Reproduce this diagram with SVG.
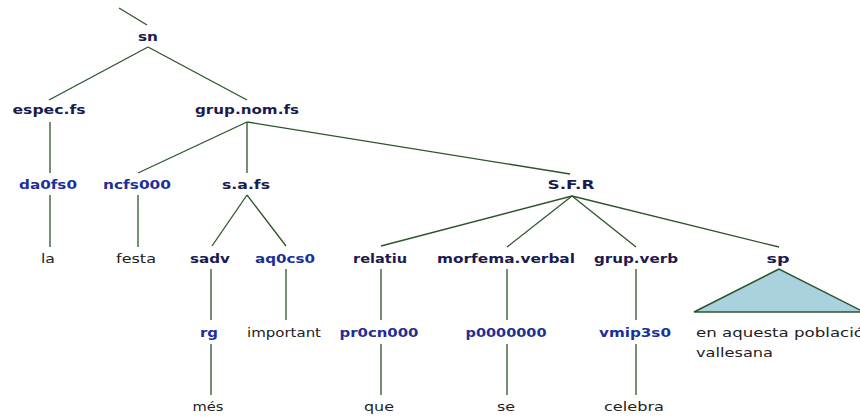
<svg xmlns="http://www.w3.org/2000/svg" width="860" height="418" viewBox="0 0 860 418">
<style>
text{font-family:"DejaVu Sans","Liberation Sans",Arial,sans-serif;font-size:13px;text-anchor:middle}
.nt{font-weight:bold;fill:#1b1b4f}
.pos{font-weight:bold;fill:#1d2f9c}
.w{fill:#222222}
.e{stroke:#2b552b;stroke-width:1.3;fill:none}
.tri{fill:#a9d1de;stroke:#2b552b;stroke-width:1.5}
</style>
<rect width="860" height="418" fill="#ffffff"/>
<g id="connectors" class="e">
<line x1="119" y1="8" x2="147" y2="25"/>
<line x1="148" y1="47" x2="49" y2="100"/>
<line x1="148" y1="47" x2="247" y2="100"/>
<line x1="50" y1="122" x2="50" y2="173"/>
<line x1="50" y1="195" x2="50" y2="247"/>
<line x1="247" y1="122" x2="138" y2="173"/>
<line x1="247" y1="122" x2="247" y2="173"/>
<line x1="247" y1="122" x2="570" y2="174"/>
<line x1="138" y1="195" x2="138" y2="247"/>
<line x1="247" y1="195" x2="212" y2="246"/>
<line x1="247" y1="195" x2="286" y2="246"/>
<line x1="211" y1="269" x2="211" y2="320"/>
<line x1="211" y1="344" x2="211" y2="395"/>
<line x1="286" y1="269" x2="286" y2="320"/>
<line x1="572" y1="196" x2="381" y2="246"/>
<line x1="572" y1="196" x2="507" y2="247"/>
<line x1="572" y1="196" x2="636" y2="247"/>
<line x1="572" y1="196" x2="779" y2="247"/>
<line x1="381" y1="269" x2="381" y2="320"/>
<line x1="381" y1="344" x2="381" y2="395"/>
<line x1="507" y1="269" x2="507" y2="320"/>
<line x1="507" y1="344" x2="507" y2="395"/>
<line x1="636" y1="269" x2="636" y2="320"/>
<line x1="636" y1="344" x2="636" y2="395"/>
</g>
<g id="n-sn"><text class="nt" x="148" y="41" textLength="20" lengthAdjust="spacingAndGlyphs">sn</text></g>
<g id="n-espec"><text class="nt" x="49" y="114" textLength="73" lengthAdjust="spacingAndGlyphs">espec.fs</text></g>
<g id="n-grupnom"><text class="nt" x="247" y="114" textLength="104" lengthAdjust="spacingAndGlyphs">grup.nom.fs</text></g>
<g id="n-da0fs0"><text class="pos" x="48" y="189" textLength="58" lengthAdjust="spacingAndGlyphs">da0fs0</text></g>
<g id="n-ncfs000"><text class="pos" x="137" y="189" textLength="68" lengthAdjust="spacingAndGlyphs">ncfs000</text></g>
<g id="n-safs"><text class="nt" x="246" y="189" textLength="48" lengthAdjust="spacingAndGlyphs">s.a.fs</text></g>
<g id="n-sfr"><text class="nt" x="571" y="189" textLength="47" lengthAdjust="spacingAndGlyphs">S.F.R</text></g>
<g id="n-la"><text class="w" x="48" y="263" textLength="14" lengthAdjust="spacingAndGlyphs">la</text></g>
<g id="n-festa"><text class="w" x="136" y="263" textLength="40" lengthAdjust="spacingAndGlyphs">festa</text></g>
<g id="n-sadv"><text class="nt" x="210" y="263" textLength="40" lengthAdjust="spacingAndGlyphs">sadv</text></g>
<g id="n-aq0cs0"><text class="pos" x="285" y="263" textLength="60" lengthAdjust="spacingAndGlyphs">aq0cs0</text></g>
<g id="n-relatiu"><text class="nt" x="380" y="263" textLength="54" lengthAdjust="spacingAndGlyphs">relatiu</text></g>
<g id="n-morfema"><text class="nt" x="506" y="263" textLength="138" lengthAdjust="spacingAndGlyphs">morfema.verbal</text></g>
<g id="n-grupverb"><text class="nt" x="636" y="263" textLength="84" lengthAdjust="spacingAndGlyphs">grup.verb</text></g>
<g id="n-sp"><text class="nt" x="778" y="263" textLength="23" lengthAdjust="spacingAndGlyphs">sp</text>
<polygon class="tri" points="779,269 694,312 864,312"/></g>
<g id="n-rg"><text class="pos" x="209" y="337" textLength="18" lengthAdjust="spacingAndGlyphs">rg</text></g>
<g id="n-important"><text class="w" x="284" y="337" textLength="74" lengthAdjust="spacingAndGlyphs">important</text></g>
<g id="n-pr0cn000"><text class="pos" x="379" y="337" textLength="79" lengthAdjust="spacingAndGlyphs">pr0cn000</text></g>
<g id="n-p0000000"><text class="pos" x="506" y="337" textLength="81" lengthAdjust="spacingAndGlyphs">p0000000</text></g>
<g id="n-vmip3s0"><text class="pos" x="635" y="337" textLength="72" lengthAdjust="spacingAndGlyphs">vmip3s0</text></g>
<g id="n-sp-text"><text class="w" x="696" y="337" style="text-anchor:start" textLength="168" lengthAdjust="spacingAndGlyphs">en aquesta població</text>
<text class="w" x="696" y="357" style="text-anchor:start" textLength="77" lengthAdjust="spacingAndGlyphs">vallesana</text></g>
<g id="n-mes"><text class="w" x="208" y="411" textLength="31" lengthAdjust="spacingAndGlyphs">més</text></g>
<g id="n-que"><text class="w" x="379" y="411" textLength="30" lengthAdjust="spacingAndGlyphs">que</text></g>
<g id="n-se"><text class="w" x="506" y="411" textLength="18" lengthAdjust="spacingAndGlyphs">se</text></g>
<g id="n-celebra"><text class="w" x="634" y="411" textLength="60" lengthAdjust="spacingAndGlyphs">celebra</text></g>
</svg>
